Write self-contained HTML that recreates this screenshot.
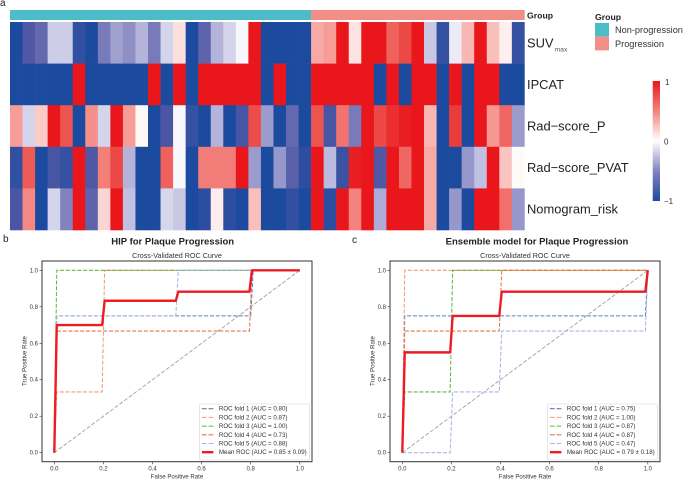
<!DOCTYPE html>
<html>
<head>
<meta charset="utf-8">
<title>Plaque progression heatmap and ROC curves</title>
<style>
html,body{margin:0;padding:0;background:#fff;width:685px;height:479px;overflow:hidden}
svg{display:block;font-family:"Liberation Sans",sans-serif;filter:blur(0.3px)}
</style>
</head>
<body>
<svg id="fig" xmlns="http://www.w3.org/2000/svg" width="685" height="479" viewBox="0 0 685 479">
  <defs>
    <linearGradient id="cbar" x1="0" y1="0" x2="0" y2="1">
      <stop offset="0" stop-color="#e9171b"/>
      <stop offset="0.25" stop-color="#f3837d"/>
      <stop offset="0.5" stop-color="#ffffff"/>
      <stop offset="0.75" stop-color="#8283be"/>
      <stop offset="1" stop-color="#1c4a9e"/>
    </linearGradient>
  </defs>
  <g id="heatmap"></g>
  <text x="0" y="6" font-size="10" fill="#222">a</text>
  <text x="3" y="242" font-size="10" fill="#222">b</text>
  <text x="352" y="243" font-size="10" fill="#222">c</text>
  <text x="527" y="18.5" font-size="8.7" font-weight="bold" fill="#222">Group</text>
  <g>
    <text x="595" y="20" font-size="8.7" font-weight="bold" fill="#222">Group</text>
    <rect x="595" y="23" width="14" height="13.7" fill="#4cbdc6"/>
    <rect x="595" y="36.7" width="14" height="13.7" fill="#f28e88"/>
    <text x="615" y="33" font-size="9.2" fill="#333">Non-progression</text>
    <text x="615" y="47" font-size="9.2" fill="#333">Progression</text>
  </g>
  <g>
    <rect x="652.7" y="81" width="7.3" height="120" fill="url(#cbar)"/>
    <text x="665" y="85" font-size="8" fill="#333">1</text>
    <text x="664" y="144.5" font-size="8" fill="#333">0</text>
    <text x="664" y="204" font-size="8" fill="#333">−1</text>
  </g>
  <text x="172.7" y="244.5" font-size="9.5" font-weight="bold" text-anchor="middle" fill="#222">HIP for Plaque Progression</text>
  <text x="537" y="244.5" font-size="9.5" font-weight="bold" text-anchor="middle" fill="#222">Ensemble model for Plaque Progression</text>
  <g id="panelB"></g>
  <g id="panelC"></g>
</svg>
<script>
// ---- Heatmap data ----
const rowNames = ['SUV', 'IPCAT', 'Rad−score_P', 'Rad−score_PVAT', 'Nomogram_risk'];
const groupValues = ['N','N','N','N','N','N','N','N','N','N','N','N','N','N','N','N','N','N','N','N','N','N','N','N','P','P','P','P','P','P','P','P','P','P','P','P','P','P','P','P','P'];
const suvValues = [-1,-.75,-.65,-.2,-.2,-.9,-1,-.55,-.38,-.45,-.3,-.55,-.17,.13,-1,-.68,-.3,-.17,-.03,1,-1,-1,-1,-1,.35,.4,1,.12,1,1,.68,.8,1,-.22,-.88,-.08,.3,1,.27,.07,-.88];
const ipcatValues = [-1,-1,-1,-1,-1,1,-1,-1,-1,-1,-1,1,-1,1,-1,1,1,1,1,1,-1,1,-1,-1,1,1,1,1,1,-1,1,-1,1,1,-1,1,-1,1,1,-1,-1];
const radPValues = [.4,-.17,.22,1,.75,-1,.45,-.17,1,.4,.03,-1,-.78,-.03,-.88,-1,-.3,-1,-.8,.78,-.4,-1,-.65,-1,.75,-.8,.58,-.55,1,.8,.9,.97,1,.3,-1,.85,-1,1,.42,.65,-.4];
const radPvatValues = [-.9,.72,-1,-.8,-.87,1,-.75,.52,.8,-.3,-1,-1,.68,-.03,-1,.53,.53,.53,1,-.4,-1,-.42,-.7,-.92,1,-.27,-.85,.97,1,-.75,1,.65,1,.35,-1,-1,-.42,-.25,1,.25,.02];
const nomogramValues = [-.78,.48,-1,-.17,-.5,1,-.68,.18,1,-.25,-1,-1,-.16,-.22,-1,-.93,.08,-.93,-1,.27,-1,-1,-.9,-1,1,-.92,1,.5,1,-.33,1,1,1,.35,-1,-.42,-1,1,1,.6,-.42];

// ---- ROC tick labels ----
const tickValues = [0, 0.2, 0.4, 0.6, 0.8, 1];

// ---- HIP ROC data ----
const hipFold1Fpr = [0,.01,.8,.81,1];
const hipFold1Tpr = [0,.75,.75,1,1];
const hipFold2Fpr = [0,.01,.195,.205,1];
const hipFold2Tpr = [0,.333,.333,1,1];
const hipFold3Fpr = [0,.01,1];
const hipFold3Tpr = [0,1,1];
const hipFold4Fpr = [0,.01,.795,.805,1];
const hipFold4Tpr = [0,.667,.667,1,1];
const hipFold5Fpr = [0,.01,.495,.505,1];
const hipFold5Tpr = [0,.75,.75,1,1];
const hipMeanFpr = [0,.01,.195,.205,.495,.505,.795,.805,1];
const hipMeanTpr = [0,.7,.7,.833,.833,.883,.883,1,1];
const hipLegend = ['ROC fold 1 (AUC = 0.80)','ROC fold 2 (AUC = 0.87)','ROC fold 3 (AUC = 1.00)','ROC fold 4 (AUC = 0.73)','ROC fold 5 (AUC = 0.88)','Mean ROC (AUC = 0.85 ± 0.09)'];

// ---- Ensemble ROC data ----
const ensFold1Fpr = [0,.01,.99,1];
const ensFold1Tpr = [0,.75,.75,1];
const ensFold2Fpr = [0,.01,1];
const ensFold2Tpr = [0,1,1];
const ensFold3Fpr = [0,.01,.195,.205,1];
const ensFold3Tpr = [0,.333,.333,1,1];
const ensFold4Fpr = [0,.01,.395,.405,1];
const ensFold4Tpr = [0,.667,.667,1,1];
const ensFold5Fpr = [0,.195,.205,.395,.405,.99,1];
const ensFold5Tpr = [0,0,.333,.333,.667,.667,1];
const ensMeanFpr = [0,.01,.195,.205,.395,.405,.99,1];
const ensMeanTpr = [0,.55,.55,.75,.75,.883,.883,1];
const ensLegend = ['ROC fold 1 (AUC = 0.75)','ROC fold 2 (AUC = 1.00)','ROC fold 3 (AUC = 0.87)','ROC fold 4 (AUC = 0.87)','ROC fold 5 (AUC = 0.47)','Mean ROC (AUC = 0.79 ± 0.18)'];

const NS = 'http://www.w3.org/2000/svg';
function make(parent, tag, attrs, text) {
  const el = document.createElementNS(NS, tag);
  for (const k in attrs) el.setAttribute(k, attrs[k]);
  if (text !== undefined) el.textContent = text;
  parent.appendChild(el);
  return el;
}

// ---- Heatmap colour scale ----
const rampStops = [[-1,28,74,158],[-.75,80,88,165],[-.5,130,131,190],[-.25,192,192,226],[0,255,255,255],[.25,250,196,192],[.5,243,131,125],[.75,237,84,80],[1,233,23,27]];
function rampColor(v) {
  for (let i = 0; i < rampStops.length - 1; i++) {
    const a = rampStops[i], b = rampStops[i + 1];
    if (v <= b[0]) {
      const t = Math.max(0, (v - a[0]) / (b[0] - a[0]));
      return 'rgb(' + [1,2,3].map(function (j) { return Math.round(a[j] + (b[j] - a[j]) * t); }).join(',') + ')';
    }
  }
  return 'rgb(233,23,27)';
}

// ---- Draw heatmap ----
(function () {
  const root = document.getElementById('heatmap');
  const rows = [suvValues, ipcatValues, radPValues, radPvatValues, nomogramValues];
  const left = 10, right = 524.4, top = 22, bottom = 230;
  const colW = (right - left) / groupValues.length;
  const rowH = (bottom - top) / rows.length;
  const xCol = function (c) { return left + c * colW; };
  const yRow = function (r) { return top + r * rowH; };
  groupValues.forEach(function (g, c) {
    const cell = make(root, 'rect', {x: xCol(c), y: 10, width: colW + 0.3, height: 10, fill: g === 'N' ? '#4cbdc6' : '#f28e88'});
    
    
  });
  rows.forEach(function (vals, r) {
    vals.forEach(function (v, c) {
      const cell = make(root, 'rect', {x: xCol(c), y: yRow(r), width: colW + 0.3, height: rowH + 0.3, fill: rampColor(v)});
      
      
    });
    const label = make(root, 'text', {x: 527, y: yRow(r) + rowH / 2 + 4.5, 'font-size': 12.9, fill: '#222'}, rowNames[r]);
    
    
    if (rowNames[r] === 'SUV') {
      const sub = make(label, 'tspan', {dy: 4, dx: 1, 'font-size': 6.8, fill: '#555'}, 'max');
      
      
    }
  });
})();

// ---- Draw ROC panels ----
const foldColors = ['#5c7fb6', '#f79a78', '#6cb23f', '#dc7c48', '#a2b7e2'];
function drawRoc(root, frameLeft, legendLeft, fprs, tprs, legend) {
  const frameRight = frameLeft + 270, frameTop = 261, frameBottom = 461.7;
  const x = function (v) { return frameLeft + 12.3 + v * 245.5; };
  const y = function (v) { return 452.7 - v * 182.4; };
  const path = function (fx, fy) {
    return fx.map(function (v, i) { return (i ? 'L' : 'M') + x(v).toFixed(2) + ' ' + y(fy[i]).toFixed(2); }).join('');
  };
  const sub = make(root, 'text', {x: frameLeft + 135, y: 258, 'font-size': 7.2, 'text-anchor': 'middle', fill: '#333'}, 'Cross-Validated ROC Curve');
  
  
  tickValues.forEach(function (t) {
    const xt = make(root, 'line', {x1: x(t), x2: x(t), y1: frameBottom, y2: frameBottom + 2.5, stroke: '#333', 'stroke-width': .6});
    
    
    const xl = make(root, 'text', {x: x(t), y: 470.3, 'font-size': 6, 'text-anchor': 'middle', fill: '#333'}, t.toFixed(1));
    
    
    const yt = make(root, 'line', {x1: frameLeft - 2.5, x2: frameLeft, y1: y(t), y2: y(t), stroke: '#333', 'stroke-width': .6});
    
    
    const yl = make(root, 'text', {x: frameLeft - 4, y: y(t) + 2, 'font-size': 6, 'text-anchor': 'end', fill: '#333'}, t.toFixed(1));
    
    
  });
  const xa = make(root, 'text', {x: frameLeft + 135, y: 478.5, 'font-size': 6.1, 'text-anchor': 'middle', fill: '#333'}, 'False Positive Rate');
  
  
  const yaX = frameLeft - 15.5, yaY = 361;
  const ya = make(root, 'text', {x: yaX, y: yaY, 'font-size': 6.1, 'text-anchor': 'middle', fill: '#333', transform: 'rotate(-90 ' + yaX + ' ' + yaY + ')'}, 'True Positive Rate');
  
  
  const chance = make(root, 'path', {d: path([0, 1], [0, 1]), fill: 'none', stroke: '#a0a0a0', 'stroke-width': .9, 'stroke-dasharray': '4 1.8'});
  
  
  for (let i = 0; i < 5; i++) {
    const line = make(root, 'path', {d: path(fprs[i], tprs[i]), fill: 'none', stroke: foldColors[i], 'stroke-width': 1.05, 'stroke-dasharray': '4 1.8'});
    
    
  }
  const mean = make(root, 'path', {d: path(fprs[5], tprs[5]), fill: 'none', stroke: '#ec1c24', 'stroke-width': 2.4, 'stroke-linejoin': 'round'});
  
  
  const frame = make(root, 'rect', {x: frameLeft, y: frameTop, width: frameRight - frameLeft, height: frameBottom - frameTop, fill: 'none', stroke: '#333', 'stroke-width': 1});
  
  
  const box = make(root, 'rect', {x: legendLeft, y: 404, width: 110, height: 56, rx: 1.5, fill: '#fff', 'fill-opacity': .85, stroke: '#d4d4d4', 'stroke-width': .6});
  
  
  legend.forEach(function (txt, i) {
    const ly = 408.7 + i * 8.7;
    const swatch = make(root, 'line', {x1: legendLeft + 2.5, x2: legendLeft + 14, y1: ly, y2: ly, stroke: i < 5 ? foldColors[i] : '#ec1c24', 'stroke-width': i < 5 ? 1.05 : 2.4, 'stroke-dasharray': i < 5 ? '4.8 1.9' : 'none'});
    
    
    const label = make(root, 'text', {x: legendLeft + 19.5, y: ly + 2, 'font-size': 6.2, fill: '#333'}, txt);
    
    
  });
}
drawRoc(document.getElementById('panelB'), 42, 199.4,
  [hipFold1Fpr, hipFold2Fpr, hipFold3Fpr, hipFold4Fpr, hipFold5Fpr, hipMeanFpr],
  [hipFold1Tpr, hipFold2Tpr, hipFold3Tpr, hipFold4Tpr, hipFold5Tpr, hipMeanTpr], hipLegend);
drawRoc(document.getElementById('panelC'), 390, 547.4,
  [ensFold1Fpr, ensFold2Fpr, ensFold3Fpr, ensFold4Fpr, ensFold5Fpr, ensMeanFpr],
  [ensFold1Tpr, ensFold2Tpr, ensFold3Tpr, ensFold4Tpr, ensFold5Tpr, ensMeanTpr], ensLegend);
</script>
</body>
</html>
